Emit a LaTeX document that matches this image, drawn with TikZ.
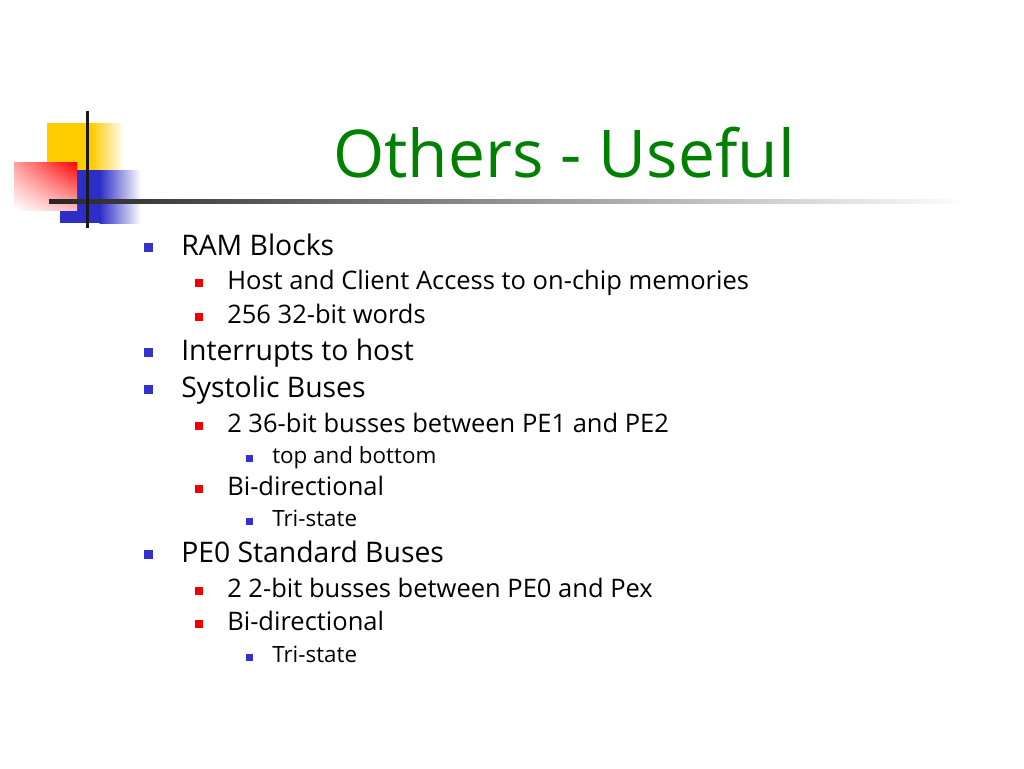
\documentclass[tikz,border=0pt]{standalone}
\usepackage{fontspec}
\setmainfont{Open Sans}
\usetikzlibrary{shadings}
\definecolor{ttlgreen}{RGB}{0,128,0}
\definecolor{bulblue}{RGB}{51,51,204}
\definecolor{bulred}{RGB}{240,0,0}
\definecolor{logoyel}{RGB}{255,204,0}
\definecolor{logoblu}{RGB}{45,45,200}
\definecolor{logopink}{RGB}{255,160,160}
\begin{document}
\begin{tikzpicture}[x=0.7057pt,y=-0.7057pt,
  txtone/.style={anchor=base west,inner sep=0pt,font=\fontsize{20}{24}\selectfont},
  txttwo/.style={anchor=base west,inner sep=0pt,font=\fontsize{18}{22}\selectfont},
  txtthree/.style={anchor=base west,inner sep=0pt,font=\fontsize{15.8}{19}\selectfont},
  bulone/.style={fill=bulblue,inner sep=0pt,minimum size=6.3pt,draw=none},
  bultwo/.style={fill=bulred,inner sep=0pt,minimum size=5.6pt,draw=none},
  bulthree/.style={fill=bulblue,inner sep=0pt,minimum size=4.4pt,draw=none}]
\useasboundingbox[fill=white] (0,0) rectangle (1024,768);
% logo
\fill[logoyel] (47,123) rectangle (92,172);
\shade[left color=logoyel,right color=white] (91.5,123) rectangle (124,172);
\fill[logoblu] (60,170) rectangle (100,223);
\shade[left color=logoblu,right color=white] (99.5,170) rectangle (141,223);
\shade[upper right=red,lower left=white,upper left=logopink,lower right=logopink!70!white] (14,162) rectangle (77,210);
\shade[left color=black!85,right color=white] (49,199) rectangle (970,203.5);
\draw[line width=2.2pt,black!90] (87.5,111) -- (87.5,228);
% title
\node[anchor=base,inner sep=0pt,text=ttlgreen,font=\fontsize{46.5}{54}\selectfont] (title) at (564,177) {Others - Useful};
% bullets and texts
\node[bulone] (ba) at (148.5,247.5) {}; \node[txtone] (ta) at (181,255) {RAM Blocks};
\node[bultwo] (bb) at (199,283) {}; \node[txttwo] (tb) at (227,289) {Host and Client Access to on-chip memories};
\node[bultwo] (bc) at (199,317) {}; \node[txttwo] (tc) at (227,323) {256 32-bit words};
\node[bulone] (bd) at (148.5,352.5) {}; \node[txtone] (td) at (181,360) {Interrupts to host};
\node[bulone] (be) at (148.5,389.5) {}; \node[txtone] (te) at (181,397) {Systolic Buses};
\node[bultwo] (bf) at (199,426) {}; \node[txttwo] (tf) at (227,432) {2 36-bit busses between PE1 and PE2};
\node[bulthree] (bg) at (249.5,458.5) {}; \node[txtthree] (tg) at (272,463) {top and bottom};
\node[bultwo] (bh) at (199,489) {}; \node[txttwo] (th) at (227,495) {Bi-directional};
\node[bulthree] (bi) at (249.5,521.5) {}; \node[txtthree] (ti) at (272,526) {Tri-state};
\node[bulone] (bj) at (148.5,554.5) {}; \node[txtone] (tj) at (181,562) {PE0 Standard Buses};
\node[bultwo] (bk) at (199,591) {}; \node[txttwo] (tk) at (227,597) {2 2-bit busses between PE0 and Pex};
\node[bultwo] (bl) at (199,624) {}; \node[txttwo] (tl) at (227,630) {Bi-directional};
\node[bulthree] (bm) at (249.5,657.5) {}; \node[txtthree] (tm) at (272,662) {Tri-state};
\end{tikzpicture}
\end{document}
